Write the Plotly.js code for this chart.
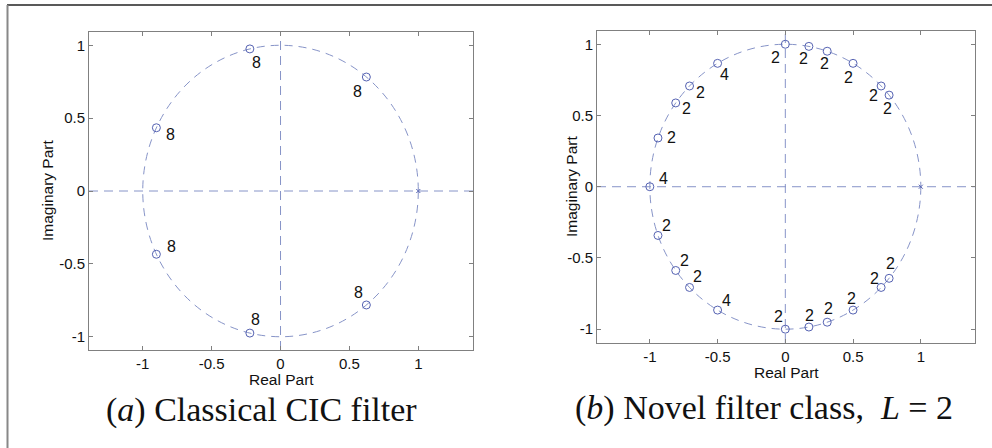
<!DOCTYPE html>
<html>
<head>
<meta charset="utf-8">
<script src="https://cdn.plot.ly/plotly-3.0.1.min.js"></script>
<style>html,body{margin:0;padding:0;background:#fff;}#chart{width:992px;height:448px;}</style>
</head>
<body>
<div id="chart"></div>
<script>
// ---- Data: panel (a) Classical CIC filter ----
const zerosReA = [0.623, -0.2225, -0.901, -0.901, -0.2225, 0.623];
const zerosImA = [0.782, 0.975, 0.434, -0.434, -0.975, -0.782];
const multA    = ['8', '8', '8', '8', '8', '8'];
const polesReA = [1];
const polesImA = [0];

// ---- Data: panel (b) Novel filter class, L = 2 ----
const zerosReB = [0, 0.174, 0.309, 0.5, 0.707, 0.766, -0.5, -0.707, -0.809, -0.94, -1,
                  -0.94, -0.809, -0.707, -0.5, 0, 0.174, 0.309, 0.5, 0.707, 0.766];
const zerosImB = [1, 0.985, 0.951, 0.866, 0.707, 0.643, 0.866, 0.707, 0.588, 0.342, 0,
                  -0.342, -0.588, -0.707, -0.866, -1, -0.985, -0.951, -0.866, -0.707, -0.643];
const multB    = ['2','2','2','2','2','2','4','2','2','2','4',
                  '2','2','2','4','2','2','2','2','2','2'];
const polesReB = [1];
const polesImB = [0];

// label pixel offsets (placement only)
const offA = [[-9,14],[7,14],[14,7],[15,-8],[6,-14],[-8,-12]];
const offB = [[-10,13],[-5,12],[-3,12],[-5,14],[-8,10],[-2,13],[7,11],[11,7],[11,6],[14,0],[14,-8],
              [9,-10],[9,-10],[8,-11],[9,-10],[-7,-13],[1,-12],[1,-14],[-2,-12],[-7,-9],[1,-15]];

const tickVals = [-1, -0.5, 0, 0.5, 1];
const tickText = ['-1', '-0.5', '0', '0.5', '1'];

const markerColor = 'rgb(85,98,178)';
const lineColor = 'rgb(135,148,200)';
const axisColor = 'rgb(128,128,128)';

function zeroTrace(re, im, xa, ya) {
  return {x: re, y: im, xaxis: xa, yaxis: ya, mode: 'markers', type: 'scatter',
    marker: {symbol: 'circle-open', size: 8, color: markerColor, line: {width: 1, color: markerColor}},
    hoverinfo: 'x+y', showlegend: false};
}
function poleTrace(re, im, xa, ya) {
  return {x: re, y: im, xaxis: xa, yaxis: ya, mode: 'markers', type: 'scatter',
    marker: {symbol: 'x-thin-open', size: 4, color: markerColor, line: {width: 1, color: markerColor}},
    hoverinfo: 'x+y', showlegend: false};
}

const data = [
  zeroTrace(zerosReA, zerosImA, 'x', 'y'),
  poleTrace(polesReA, polesImA, 'x', 'y'),
  zeroTrace(zerosReB, zerosImB, 'x2', 'y2'),
  poleTrace(polesReB, polesImB, 'x2', 'y2')
];

function refShapes(xr, yr) {
  const dash = '9px,6px';
  return [
    {type: 'circle', xref: xr, yref: yr, x0: -1, x1: 1, y0: -1, y1: 1,
     line: {color: lineColor, width: 1, dash: '8px,6px'}, layer: 'below'},
    {type: 'line', xref: xr, yref: yr + ' domain', x0: 0, x1: 0, y0: 0, y1: 1,
     line: {color: lineColor, width: 1, dash: dash}, layer: 'below'},
    {type: 'line', xref: xr + ' domain', yref: yr, x0: 0, x1: 1, y0: 0, y1: 0,
     line: {color: lineColor, width: 1, dash: dash}, layer: 'below'}
  ];
}

const annotations = [];
function addLabels(re, im, txt, off, xr, yr) {
  for (let i = 0; i < re.length; i++) {
    annotations.push({x: re[i], y: im[i], xref: xr, yref: yr, text: txt[i], showarrow: false,
      xshift: off[i][0], yshift: -off[i][1], font: {family: 'Liberation Sans, Arial', size: 16, color: '#111'}});
  }
}
addLabels(zerosReA, zerosImA, multA, offA, 'x', 'y');
addLabels(zerosReB, zerosImB, multB, offB, 'x2', 'y2');

const titleFont = {family: 'Liberation Sans, Arial', size: 15.5, color: '#111'};
function axTitle(text, xpx, ypx, rot) {
  annotations.push({xref: 'paper', yref: 'paper', x: xpx / 992, y: 1 - ypx / 448,
    xanchor: 'center', yanchor: 'middle', text: text, showarrow: false, textangle: rot,
    font: titleFont});
}
axTitle('Real Part', 281, 379, 0);
axTitle('Imaginary Part', 47, 191, -90);
axTitle('Real Part', 786, 372, 0);
axTitle('Imaginary Part', 571, 187, -90);

annotations.push({xref: 'paper', yref: 'paper', x: 261/992, y: 1 - 410/448, xanchor: 'center', yanchor: 'middle',
  text: '(<i>a</i>) Classical CIC filter', showarrow: false,
  font: {family: 'Liberation Serif, Times New Roman', size: 34, color: '#111'}});
annotations.push({xref: 'paper', yref: 'paper', x: 764/992, y: 1 - 408/448, xanchor: 'center', yanchor: 'middle',
  text: '(<i>b</i>) Novel filter class,  <i>L</i> = 2', showarrow: false,
  font: {family: 'Liberation Serif, Times New Roman', size: 34, color: '#111'}});

function axisCommon(extra) {
  return Object.assign({
    tickmode: 'array', tickvals: tickVals, ticktext: tickText,
    ticks: 'inside', ticklen: 4, tickcolor: axisColor, mirror: 'ticks',
    showline: true, linecolor: axisColor, linewidth: 1,
    showgrid: false, zeroline: false,
    tickfont: {family: 'Liberation Sans, Arial', size: 15, color: '#111'}
  }, extra);
}

const layout = {
  width: 992, height: 448,
  margin: {l: 0, r: 0, t: 0, b: 0},
  paper_bgcolor: '#fff', plot_bgcolor: '#fff',
  showlegend: false,
  xaxis: axisCommon({domain: [89/992, 473/992], range: [-1.39, 1.397], anchor: 'y'}),
  yaxis: axisCommon({domain: [1 - 350/448, 1 - 32/448], range: [-1.091, 1.091], anchor: 'x'}),
  xaxis2: axisCommon({domain: [597/992, 975/992], range: [-1.39, 1.40], anchor: 'y2'}),
  yaxis2: axisCommon({domain: [1 - 343/448, 1 - 31/448], range: [-1.097, 1.093], anchor: 'x2'}),
  shapes: [].concat(refShapes('x', 'y'), refShapes('x2', 'y2'), [
    {type: 'line', xref: 'paper', yref: 'paper', x0: 7/992, x1: 1, y0: 1 - 5/448, y1: 1 - 5/448,
     line: {color: '#222', width: 1.5}},
    {type: 'line', xref: 'paper', yref: 'paper', x0: 7.5/992, x1: 7.5/992, y0: 0, y1: 1 - 5/448,
     line: {color: '#888', width: 2}}
  ]),
  annotations: annotations
};

Plotly.newPlot('chart', data, layout, {displayModeBar: false, staticPlot: true});
</script>
</body>
</html>
